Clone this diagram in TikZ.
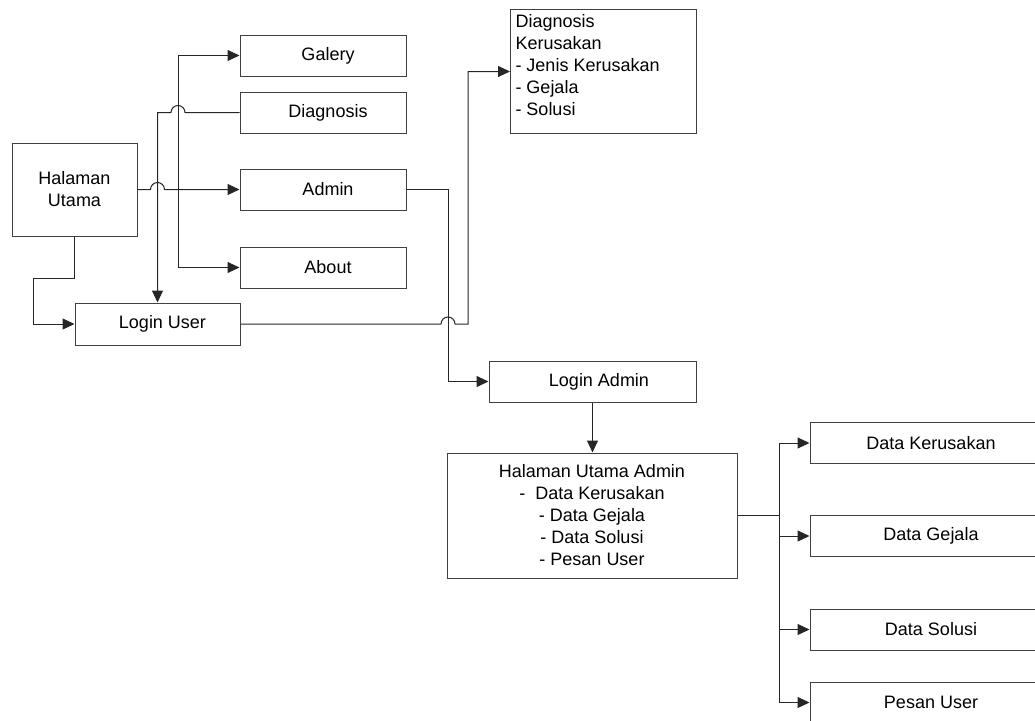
\documentclass[tikz,border=0pt]{standalone}
\usepackage{fontspec}
\setmainfont{Liberation Sans}
\usetikzlibrary{arrows.meta}
\begin{document}
\begin{tikzpicture}[x=1pt,y=-1pt,
  box/.style={draw=black!75, line width=1pt, inner sep=0pt,
    font=\fontsize{18}{22}\selectfont, align=center},
  link/.style={draw=black!85, line width=1pt},
  arr/.style={link, -{Triangle[length=12pt,width=11pt]}},
  menubox/.style={box, minimum width=166pt, minimum height=41pt},
  databox/.style={box, minimum width=242pt, minimum height=41pt},
]
\useasboundingbox (0,0) rectangle (1035,720);
\clip (0,0) rectangle (1035,720);

% main menu
\node[box, minimum width=125pt, minimum height=93pt] (hu) at (74.5,189.5) {Halaman\\Utama};
\node[menubox] (galery) at (323,55.5) {\hspace*{10pt}Galery};
\node[menubox] (diag) at (323,112.5) {\hspace*{10pt}Diagnosis};
\node[menubox] (admin) at (323,189.5) {\hspace*{10pt}Admin};
\node[menubox] (about) at (323,267.5) {\hspace*{10pt}About};
\node[box, minimum width=165pt, minimum height=42pt] (lu) at (157.5,324) {\hspace*{10pt}Login User};

% diagnosis result
\node[box, anchor=north west, inner sep=5pt] (dk) at (510,9)
  {\parbox[c][114pt][t]{176pt}{Diagnosis\\Kerusakan\\- Jenis Kerusakan\\- Gejala\\- Solusi}};

% admin section
\node[box, minimum width=207pt, minimum height=41pt] (la) at (592.5,381.5) {\hspace*{13pt}Login Admin};
\node[box, minimum width=290pt, minimum height=125pt] (hua) at (592,515.5)
  {Halaman Utama Admin\\-~~Data Kerusakan\\- Data Gejala\\- Data Solusi\\- Pesan User};
\node[databox] (d1) at (931,443) {Data Kerusakan};
\node[databox] (d2) at (931,536) {Data Gejala};
\node[databox] (d3) at (931,629.5) {Data Solusi};
\node[databox] (d4) at (931,702.5) {Pesan User};

\coordinate (jA) at (178,189.5);
\coordinate (jB) at (779,515.5);

% connectors
\draw[arr] (hu.east) -- (150.5,189.5) arc[start angle=180,end angle=0,radius=7pt] -- (admin.west);
\draw[arr] (jA) |- (galery.west);
\draw[arr] (jA) |- (about.west);
\draw[arr] (diag.west) -- (185,112.5) arc[start angle=0,end angle=180,radius=7pt]
  -- (lu.north |- diag.west) -- (lu.north);
\draw[arr] (hu.south) |- (33,278) |- (lu.west);
\draw[arr] (lu.east) -- (441,324) arc[start angle=180,end angle=0,radius=7pt] -- (468,324) |- (dk.west);
\draw[arr] (admin.east) -- (448,189.5) |- (la.west);
\draw[arr] (la.south) -- (la.south |- hua.north);
\draw[link, line width=1.6pt] (hua.east) -- (jB);
\draw[arr] (jB) |- (d1.west);
\draw[arr] (jB) |- (d2.west);
\draw[arr] (jB) |- (d3.west);
\draw[arr] (jB) |- (d4.west);
\end{tikzpicture}
\end{document}
